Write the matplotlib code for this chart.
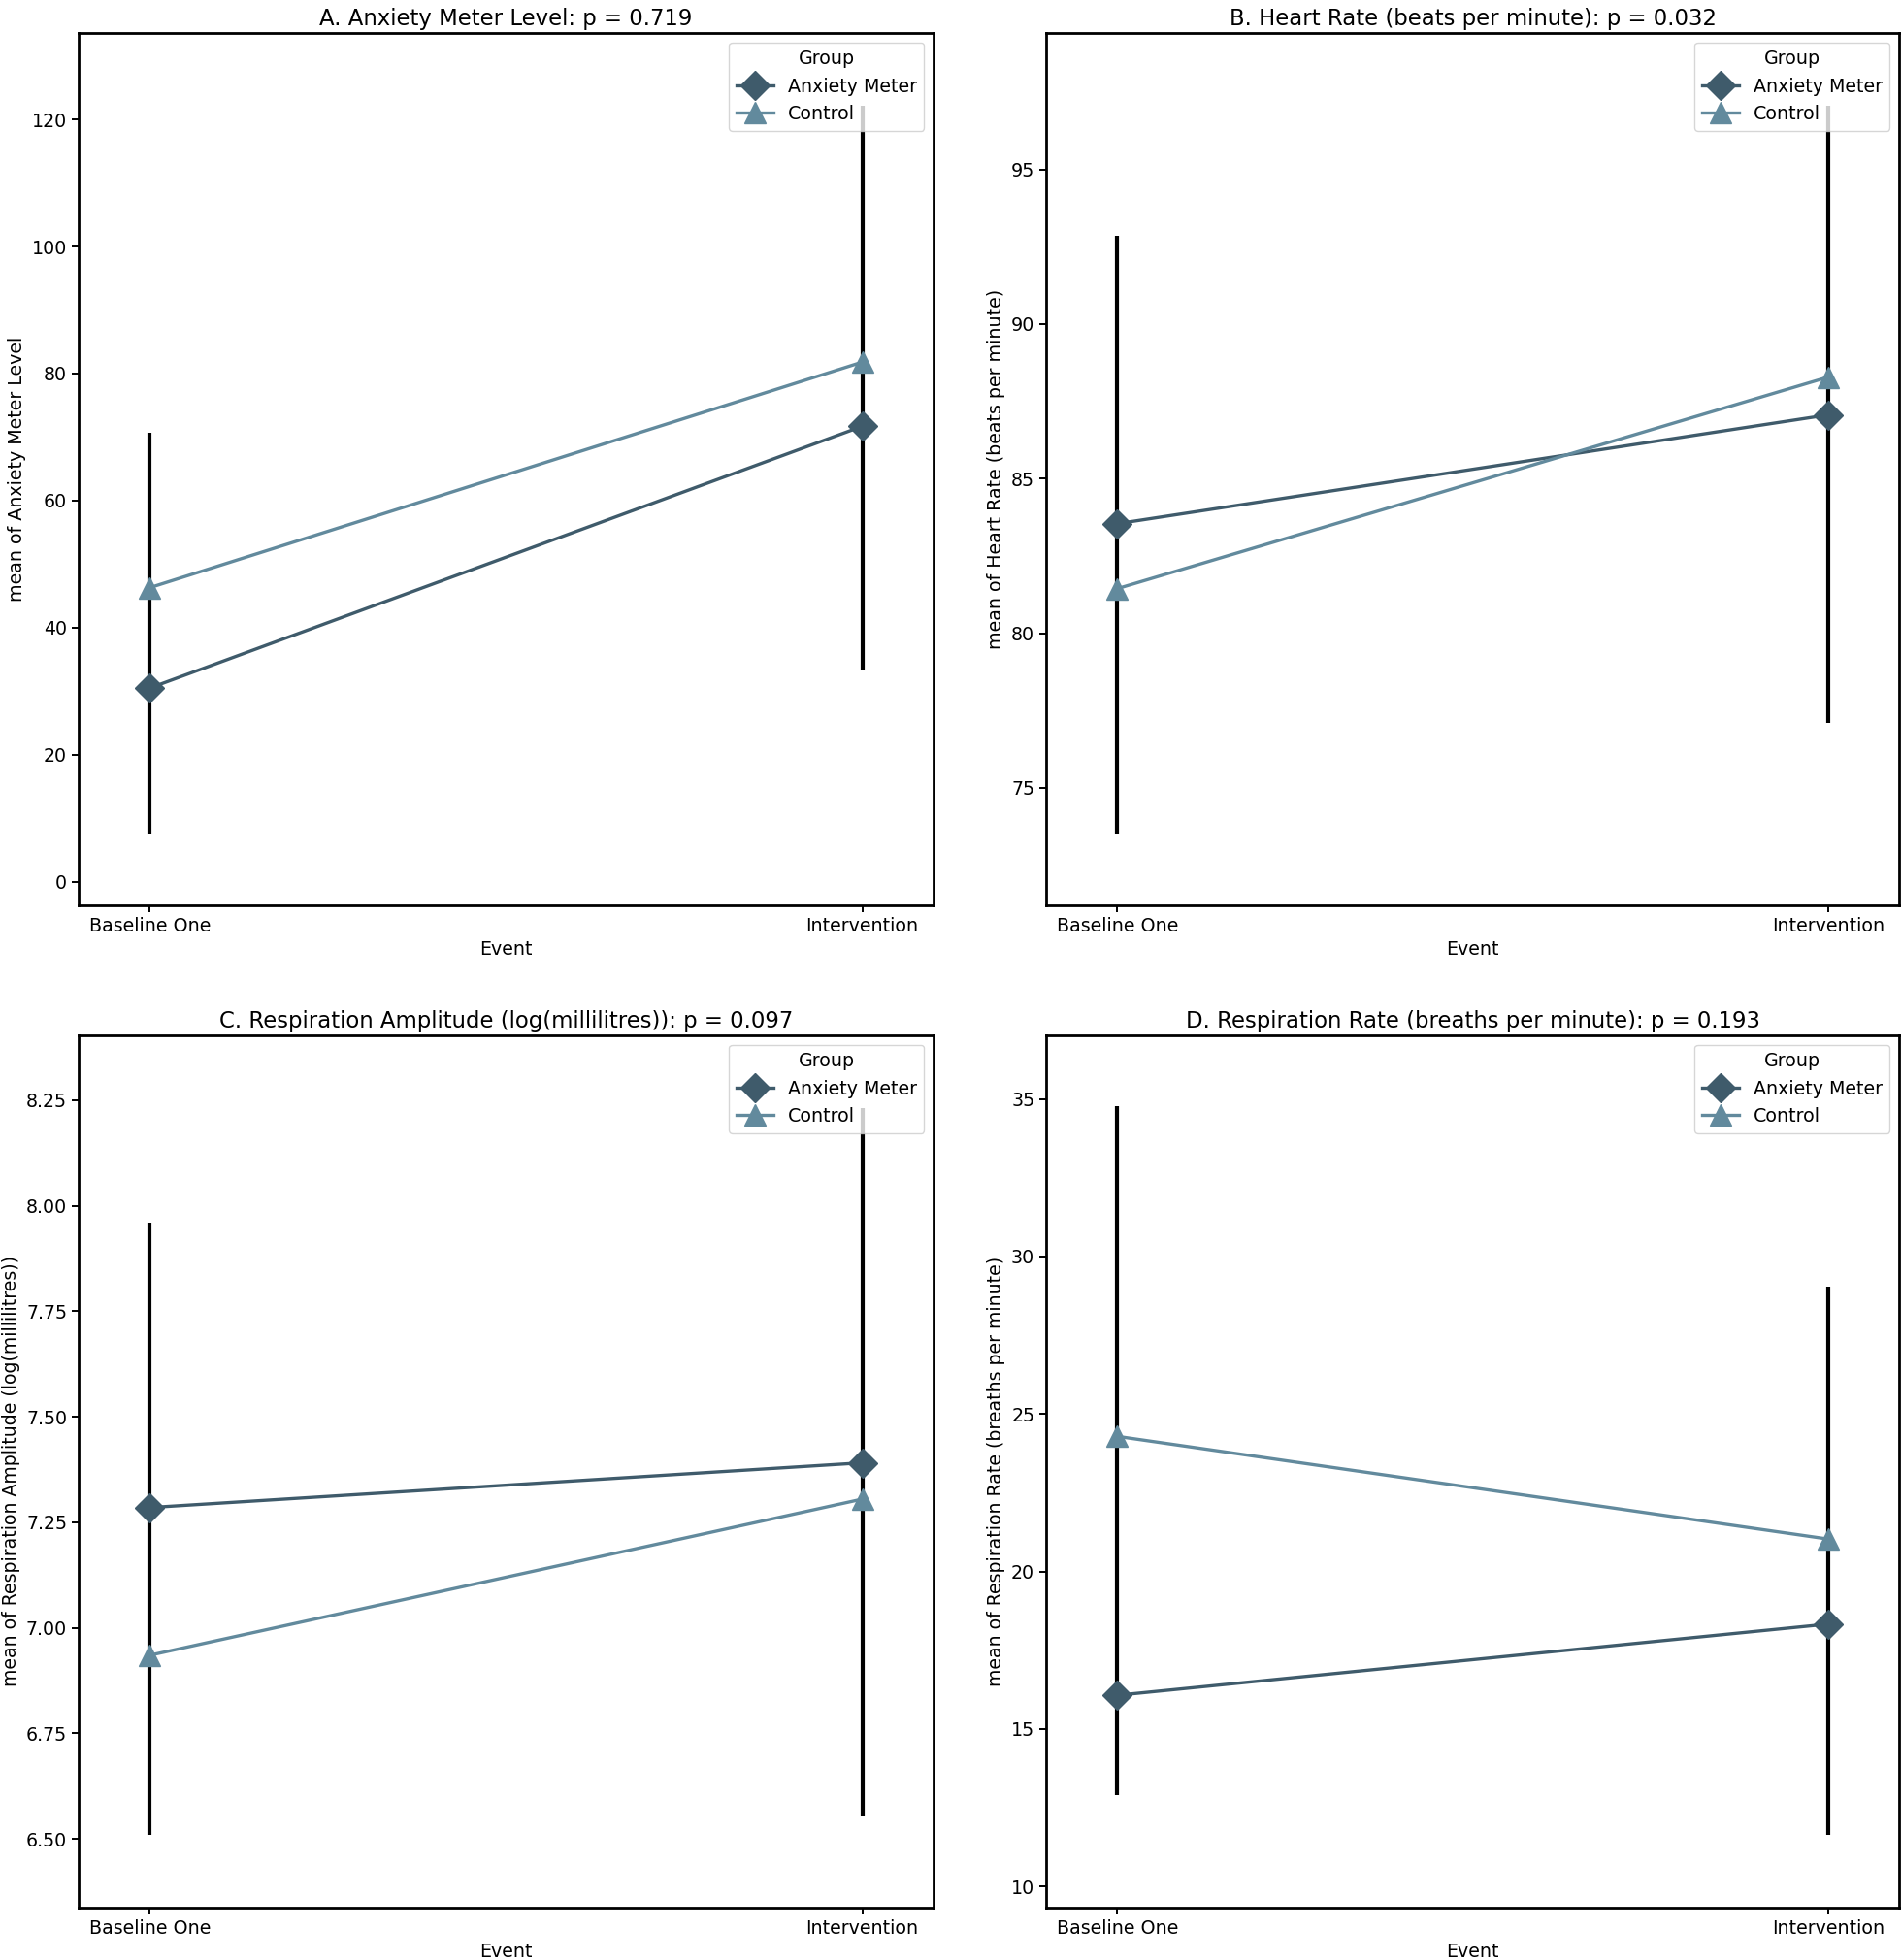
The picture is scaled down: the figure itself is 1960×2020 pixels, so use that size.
import matplotlib
matplotlib.use("Agg")
import matplotlib.pyplot as plt

events = ["Baseline One", "Intervention"]
groups = ["Anxiety Meter", "Control"]

titles = [
    "A. Anxiety Meter Level: p = 0.719",
    "B. Heart Rate (beats per minute): p = 0.032",
    "C. Respiration Amplitude (log(millilitres)): p = 0.097",
    "D. Respiration Rate (breaths per minute): p = 0.193",
]
ylabels = [
    "mean of Anxiety Meter Level",
    "mean of Heart Rate (beats per minute)",
    "mean of Respiration Amplitude (log(millilitres))",
    "mean of Respiration Rate (breaths per minute)",
]

# means per panel: [Baseline One, Intervention]
anxiety_meter_means = [
    [30.5, 71.7],
    [83.54, 87.06],
    [7.285, 7.391],
    [16.07, 18.33],
]
control_means = [
    [46.3, 81.8],
    [81.44, 88.28],
    [6.935, 7.305],
    [24.29, 21.03],
]
# error bar extents per panel per event
err_low = [
    [7.5, 33.3],
    [73.5, 77.1],
    [6.509, 6.553],
    [12.9, 11.63],
]
err_high = [
    [70.7, 122.2],
    [92.85, 97.06],
    [7.96, 8.232],
    [34.76, 29.05],
]
yticks = [
    [0, 20, 40, 60, 80, 100, 120],
    [75, 80, 85, 90, 95],
    [6.50, 6.75, 7.00, 7.25, 7.50, 7.75, 8.00, 8.25],
    [10, 15, 20, 25, 30, 35],
]
ytick_fmt = ["{:.0f}", "{:.0f}", "{:.2f}", "{:.0f}"]
ylims = [
    (-3.7, 133.6),
    (71.2, 99.41),
    (6.337, 8.404),
    (9.33, 37.02),
]

dark = "#3f5b6b"
light = "#628a9d"

fig = plt.figure(figsize=(19.6, 20.2), dpi=100)
W, H = 1960.0, 2020.0
boxes = [
    (81, 34, 962, 933),
    (1078, 34, 1957, 933),
    (81, 1067, 962, 1966),
    (1078, 1067, 1957, 1966),
]
FS = 13.7
for i, (l, t, r, b) in enumerate(boxes):
    ax = fig.add_axes([l / W, (H - b) / H, (r - l) / W, (b - t) / H])
    x = list(range(len(events)))
    ax.vlines(x, err_low[i], err_high[i], color="black", linewidth=3.0, zorder=1)
    ax.plot(x, anxiety_meter_means[i], color=dark, linewidth=2.4, marker="D",
            markersize=15, label=groups[0], zorder=3)
    ax.plot(x, control_means[i], color=light, linewidth=2.4, marker="^",
            markersize=16, label=groups[1], zorder=3)
    ax.set_xlim(-0.1, 1.1)
    ax.set_ylim(*ylims[i])
    ax.set_xticks(x)
    ax.set_xticklabels(events, fontsize=FS)
    ax.set_yticks(yticks[i])
    ax.set_yticklabels([ytick_fmt[i].format(v) for v in yticks[i]], fontsize=FS)
    ax.set_xlabel("Event", fontsize=FS)
    if i >= 2:
        ax.set_ylabel(ylabels[i], fontsize=13.6,
                      family=["Liberation Sans Narrow", "DejaVu Sans"])
    else:
        ax.set_ylabel(ylabels[i], fontsize=FS)
    ax.set_title(titles[i], fontsize=16.4)
    for s in ax.spines.values():
        s.set_linewidth(2.0)
    ax.tick_params(length=5, width=1.4)
    leg = ax.legend(title="Group", loc="upper right", fontsize=FS,
                    title_fontsize=FS, handlelength=2.0)

fig.savefig("out.png", dpi=100)
